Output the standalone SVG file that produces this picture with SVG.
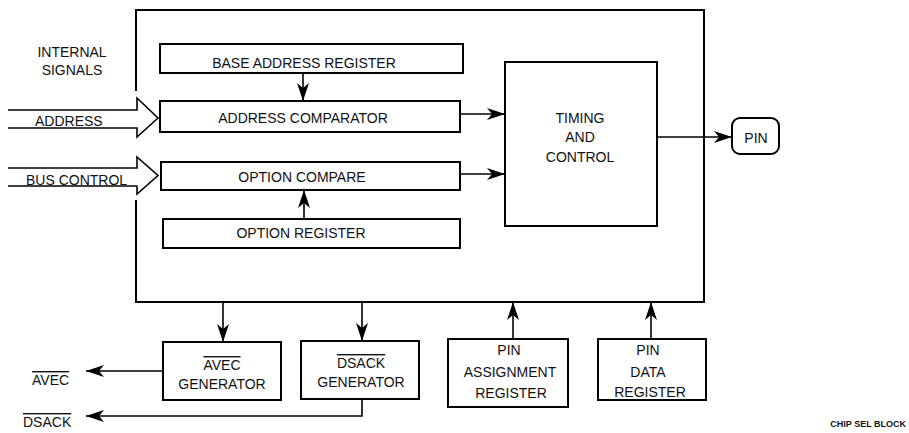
<svg xmlns="http://www.w3.org/2000/svg" width="909" height="433" viewBox="0 0 909 433">
<style>
  .bg{fill:#fff}
  .box{fill:#fff;stroke:#000;stroke-width:2}
  .ln{fill:none;stroke:#000;stroke-width:1.6}
  .hollow{fill:none;stroke:#000;stroke-width:1.6;stroke-linejoin:miter}
  text{font-family:"Liberation Sans",Arial,sans-serif;font-size:14px;fill:#111}
  .c{text-anchor:middle}
  .ov{text-decoration:overline}
  .small{font-size:9px;font-weight:bold}
</style>
<defs>
  <marker id="ah" markerUnits="userSpaceOnUse" markerWidth="18" markerHeight="12" refX="18" refY="6" orient="auto">
    <path d="M0,0 L18,6 L0,12 L5,6 Z" fill="#000"/>
  </marker>
</defs>
<rect class="bg" x="0" y="0" width="909" height="433"/>

<g id="frame">
  <polyline class="box" fill="none" points="136,91 136,10 704,10 704,302 136,302 136,200" style="fill:none"/>
</g>

<g id="internal-signals">
  <text class="c" x="72" y="57">INTERNAL</text>
  <text class="c" x="72" y="75">SIGNALS</text>
</g>

<g id="address-input">
  <polyline class="hollow" points="8,110 137,110 137,98 158,118 137,137 137,128 8,128"/>
  <text x="35" y="126">ADDRESS</text>
</g>

<g id="bus-control-input">
  <polyline class="hollow" points="8,168 137,168 137,157 158,175.5 137,194 137,186 8,186"/>
  <text x="26" y="185">BUS CONTROL</text>
</g>

<g id="base-address-register">
  <rect class="box" x="160" y="44" width="303" height="29"/>
  <text class="c" x="304" y="68">BASE ADDRESS REGISTER</text>
</g>

<g id="address-comparator">
  <rect class="box" x="160" y="101" width="300" height="31"/>
  <text class="c" x="303" y="123">ADDRESS COMPARATOR</text>
</g>

<g id="option-compare">
  <rect class="box" x="161" y="162" width="299" height="28"/>
  <text class="c" x="302" y="182">OPTION COMPARE</text>
</g>

<g id="option-register">
  <rect class="box" x="163" y="219" width="297" height="29"/>
  <text class="c" x="301" y="238">OPTION REGISTER</text>
</g>

<g id="timing-and-control">
  <rect class="box" x="505" y="62" width="152" height="164"/>
  <text class="c" x="580" y="123">TIMING</text>
  <text class="c" x="580" y="142">AND</text>
  <text class="c" x="580" y="162">CONTROL</text>
</g>

<g id="pin">
  <rect class="box" x="732" y="118" width="47" height="36" rx="8" ry="8"/>
  <text class="c" x="756" y="143">PIN</text>
</g>

<g id="avec-generator">
  <rect class="box" x="163" y="342" width="118" height="58"/>
  <text class="c ov" x="222" y="370">AVEC</text>
  <text class="c" x="222" y="389">GENERATOR</text>
</g>

<g id="dsack-generator">
  <rect class="box" x="301" y="341" width="118" height="58"/>
  <text class="c ov" x="361" y="368">DSACK</text>
  <text class="c" x="361" y="387">GENERATOR</text>
</g>

<g id="pin-assignment-register">
  <rect class="box" x="448" y="339" width="120" height="68"/>
  <text class="c" x="509" y="355">PIN</text>
  <text class="c" x="510" y="377">ASSIGNMENT</text>
  <text class="c" x="511" y="398">REGISTER</text>
</g>

<g id="pin-data-register">
  <rect class="box" x="598" y="339" width="108" height="61"/>
  <text class="c" x="648" y="355">PIN</text>
  <text class="c" x="648" y="377">DATA</text>
  <text class="c" x="650" y="397">REGISTER</text>
</g>

<g id="avec-out">
  <text class="ov" x="32" y="385">AVEC</text>
</g>

<g id="dsack-out">
  <text class="ov" x="23" y="427">DSACK</text>
</g>

<g id="caption">
  <text class="small" x="906" y="427" text-anchor="end">CHIP SEL BLOCK</text>
</g>

<g id="connectors">
  <line class="ln" x1="303" y1="73" x2="303" y2="101" marker-end="url(#ah)"/>
  <line class="ln" x1="304" y1="219" x2="304" y2="190" marker-end="url(#ah)"/>
  <line class="ln" x1="460" y1="114" x2="505" y2="114" marker-end="url(#ah)"/>
  <line class="ln" x1="460" y1="174" x2="505" y2="174" marker-end="url(#ah)"/>
  <line class="ln" x1="657" y1="137" x2="732" y2="137" marker-end="url(#ah)"/>
  <line class="ln" x1="223" y1="302" x2="223" y2="342" marker-end="url(#ah)"/>
  <line class="ln" x1="362" y1="302" x2="362" y2="341" marker-end="url(#ah)"/>
  <line class="ln" x1="513" y1="339" x2="513" y2="302" marker-end="url(#ah)"/>
  <line class="ln" x1="651" y1="339" x2="651" y2="302" marker-end="url(#ah)"/>
  <line class="ln" x1="163" y1="371" x2="86" y2="371" marker-end="url(#ah)"/>
  <polyline class="ln" points="362,399 362,416 86,416" marker-end="url(#ah)"/>
</g>
</svg>
